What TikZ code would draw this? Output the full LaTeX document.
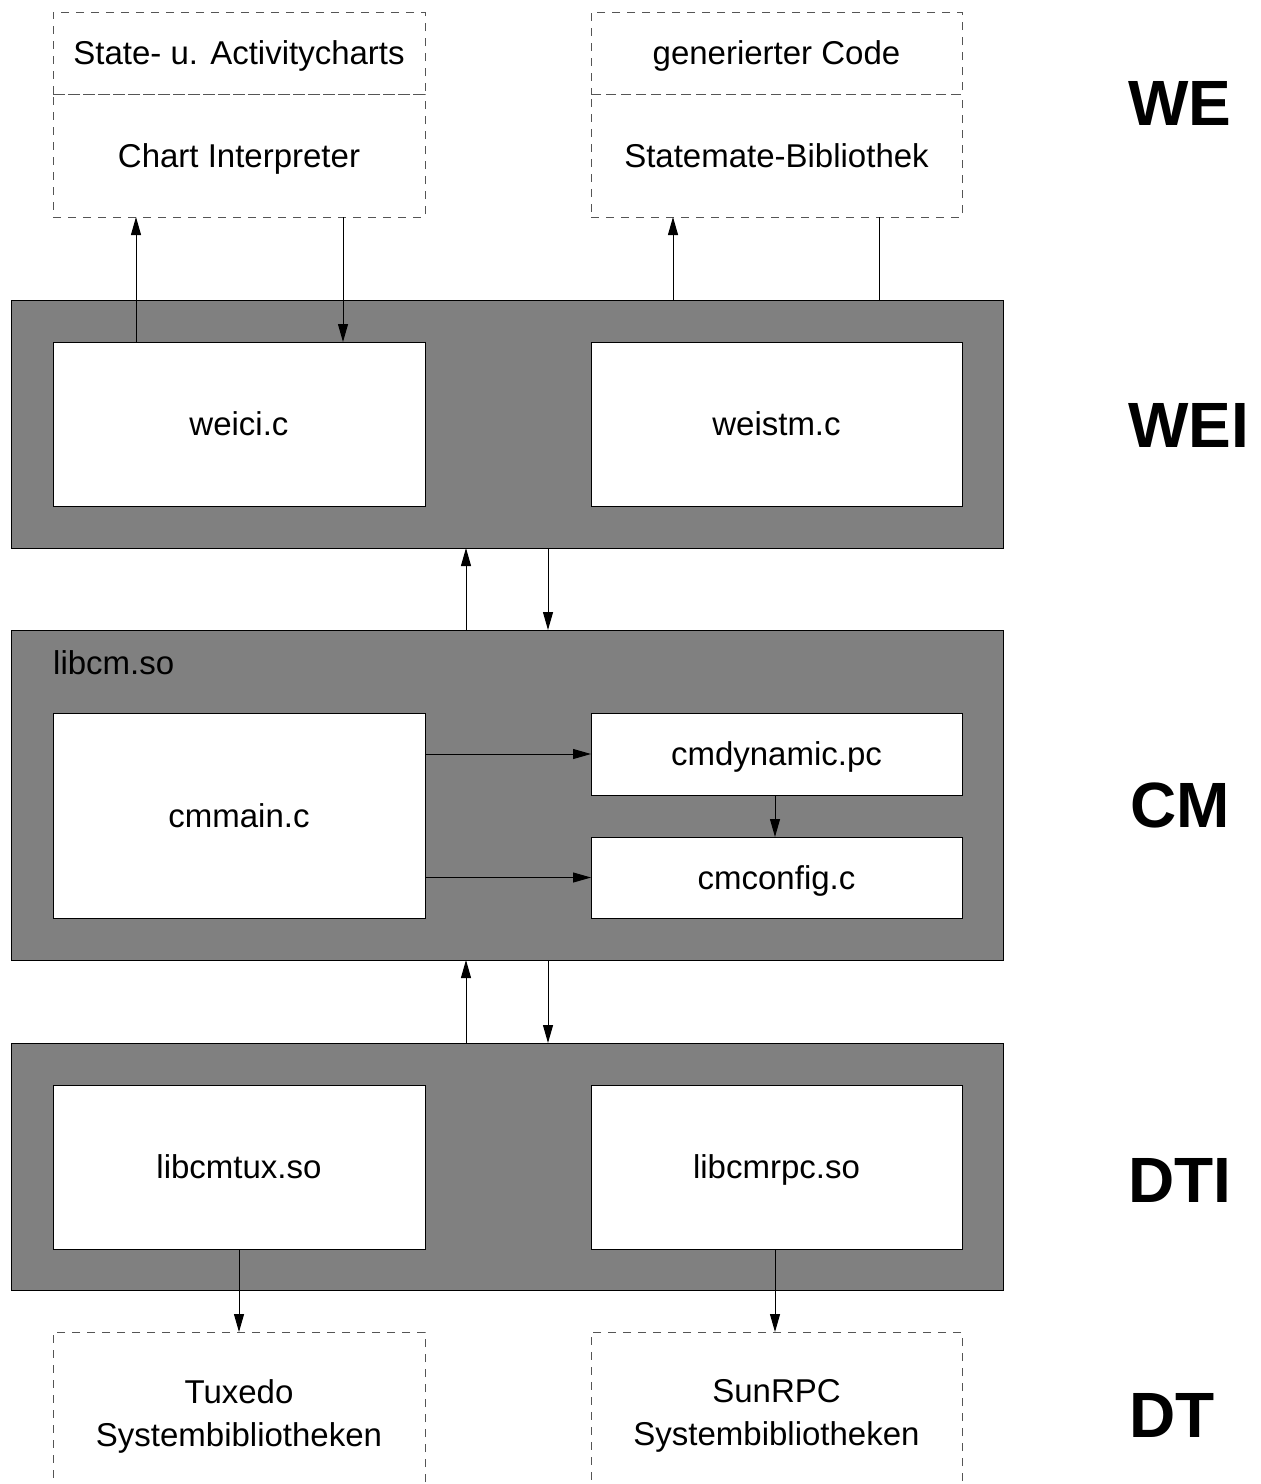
\documentclass[tikz,border=0pt]{standalone}
\usepackage{fontspec}
\setmainfont{Liberation Sans}
\usetikzlibrary{arrows.meta}
\definecolor{layergray}{HTML}{808080}
\definecolor{dashgray}{HTML}{555555}
\begin{document}
\begin{tikzpicture}[x=1pt,y=-1pt,
  txt/.style={font=\fontsize{33}{43}\selectfont, align=center},
  oneline/.style={text height=23.6pt, text depth=0pt},
  layer/.style={draw=black, fill=layergray, line width=1pt, inner sep=0pt, outer sep=0pt, minimum width=992pt},
  module/.style={txt, oneline, draw=black, fill=white, line width=1pt, inner sep=0pt, outer sep=0pt},
  extern/.style={txt, draw=dashgray, dash pattern=on 8pt off 7pt, line width=1pt, inner sep=0pt, outer sep=0pt},
  arr/.style={line width=1pt, -{Triangle[length=18pt,width=10pt]}},
  plain/.style={line width=1pt},
  tag/.style={font=\fontsize{64}{64}\selectfont\bfseries}]
\clip (0,0) rectangle (1261,1484);
\fill[white] (0,0) rectangle (1261,1484);

% column positions of the connectors
\coordinate (xa) at (136,0);
\coordinate (xb) at (343,0);
\coordinate (xc) at (673,0);
\coordinate (xd) at (879,0);
\coordinate (xup) at (466,0);
\coordinate (xdn) at (548,0);
\coordinate (xl) at (239,0);
\coordinate (xr) at (775,0);

% WE: external components
\node[extern, oneline, minimum width=372pt, minimum height=82pt] (sac) at (239,53) {State- u. Activitycharts};
\node[extern, oneline, minimum width=372pt, minimum height=123pt] (ci) at (239,155.5) {Chart Interpreter};
\node[extern, oneline, minimum width=371pt, minimum height=82pt] (gc) at (776.5,53) {generierter Code};
\node[extern, oneline, minimum width=371pt, minimum height=123pt] (sb) at (776.5,155.5) {Statemate-Bibliothek};

% WEI layer
\node[layer, minimum height=248pt] (wei) at (507,424) {};
\node[module, minimum width=372pt, minimum height=164pt] (weici) at (239,424) {weici.c};
\node[module, minimum width=371pt, minimum height=164pt] (weistm) at (776.5,424) {weistm.c};

% CM layer
\node[layer, minimum height=330pt] (cm) at (507,795) {};
\node[txt, oneline, anchor=west, inner sep=0pt] (libcm) at (53,663) {libcm.so};
\node[module, minimum width=372pt, minimum height=205pt] (cmmain) at (239,815.5) {cmmain.c};
\node[module, minimum width=371pt, minimum height=82pt] (cmdyn) at (776.5,754) {cmdynamic.pc};
\node[module, minimum width=371pt, minimum height=81pt] (cmconf) at (776.5,877.5) {cmconfig.c};

% DTI layer
\node[layer, minimum height=247pt] (dti) at (507,1166.5) {};
\node[module, minimum width=372pt, minimum height=164pt] (tux) at (239,1167) {libcmtux.so};
\node[module, minimum width=371pt, minimum height=164pt] (rpc) at (776.5,1167) {libcmrpc.so};

% DT: system libraries (open towards the bottom edge)
\node[extern, minimum width=372pt, minimum height=168pt] (tuxsys) at (239,1416) {Tuxedo\\Systembibliotheken};
\node[extern, minimum width=371pt, minimum height=168pt] (rpcsys) at (776.5,1416) {SunRPC\\Systembibliotheken};

% layer tags
\node[tag] (tWE) at (1180,103) {WE};
\node[tag] (tWEI) at (1189,425) {WEI};
\node[tag] (tCM) at (1180,805) {CM};
\node[tag] (tDTI) at (1180,1180) {DTI};
\node[tag] (tDT) at (1172,1415) {DT};

% connectors
\draw[arr] (weici.north -| xa) -- (ci.south -| xa);
\draw[arr] (ci.south -| xb) -- (weici.north -| xb);
\draw[arr] (wei.north -| xc) -- (sb.south -| xc);
\draw[plain] (sb.south -| xd) -- (wei.north -| xd);

\draw[arr] (cm.north -| xup) -- (wei.south -| xup);
\draw[arr] (wei.south -| xdn) -- (cm.north -| xdn);

\draw[arr] (cmmain.east |- cmdyn.west) -- (cmdyn.west);
\draw[arr] (cmmain.east |- cmconf.west) -- (cmconf.west);
\draw[arr] (cmdyn.south -| xr) -- (cmconf.north -| xr);

\draw[arr] (dti.north -| xup) -- (cm.south -| xup);
\draw[arr] (cm.south -| xdn) -- (dti.north -| xdn);

\draw[arr] (tux.south -| xl) -- (tuxsys.north -| xl);
\draw[arr] (rpc.south -| xr) -- (rpcsys.north -| xr);
\end{tikzpicture}
\end{document}
